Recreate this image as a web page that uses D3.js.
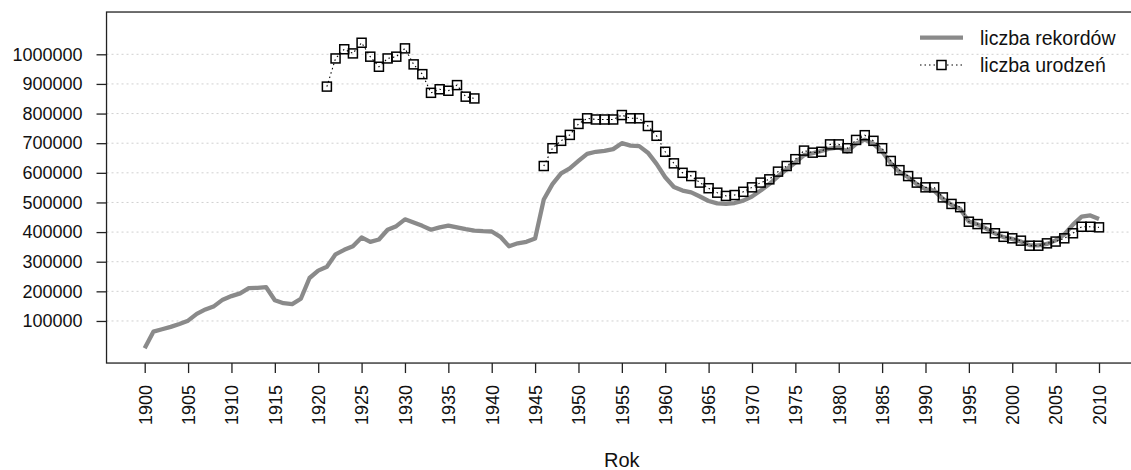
<!DOCTYPE html>
<html>
<head>
<meta charset="utf-8">
<script src="https://cdn.jsdelivr.net/npm/d3@7"></script>
<style>
  body { margin: 0; background: #fff; }
  text { font-family: "Liberation Sans", Arial, sans-serif; fill: #111; }
</style>
</head>
<body>
<div class="container"></div>
<script>
const wd = 1131
const ht = 470

// liczba rekordów, one value per year 1900-2010
const recordYears = d3.range(1900, 2011)
const recordValues = [
  8000, 64000, 72000, 80000, 90000, 101000, 124000, 139000, 150000, 172000,
  184000, 193000, 211000, 212000, 214000, 170000, 160000, 157000, 175000, 245000,
  270000, 283000, 325000, 340000, 352000, 382000, 367000, 375000, 408000, 420000,
  443000, 432000, 421000, 408000, 416000, 422000, 416000, 410000, 405000, 403000,
  402000, 384000, 352000, 362000, 367000, 378000, 510000, 562000, 598000, 615000,
  640000, 664000, 671000, 674000, 680000, 700000, 692000, 690000, 668000, 630000,
  585000, 552000, 540000, 534000, 520000, 505000, 497000, 495000, 498000, 506000,
  520000, 540000, 562000, 588000, 612000, 635000, 660000, 666000, 674000, 682000,
  686000, 672000, 698000, 712000, 698000, 672000, 632000, 603000, 585000, 562000,
  545000, 540000, 512000, 492000, 478000, 436000, 426000, 412000, 396000, 383000,
  377000, 368000, 356000, 355000, 360000, 372000, 392000, 425000, 452000, 456000,
  444000
]

// liczba urodzeń, 1921-1938 and 1946-2010
const birthYearsA = d3.range(1921, 1939)
const birthValuesA = [
  891000, 986000, 1017000, 1003000, 1039000, 992000, 958000, 986000, 992000, 1020000,
  966000, 933000, 870000, 882000, 877000, 896000, 857000, 851000
]
const birthYearsB = d3.range(1946, 2011)
const birthValuesB = [
  623000, 683000, 708000, 728000, 765000, 784000, 780000, 780000, 780000, 795000,
  784000, 784000, 758000, 725000, 671000, 632000, 600000, 589000, 567000, 548000,
  533000, 522000, 525000, 536000, 551000, 567000, 578000, 604000, 623000, 646000,
  675000, 668000, 671000, 696000, 696000, 683000, 711000, 727000, 708000, 683000,
  640000, 609000, 589000, 567000, 551000, 551000, 517000, 495000, 484000, 435000,
  427000, 413000, 396000, 384000, 379000, 371000, 354000, 354000, 362000, 368000,
  379000, 396000, 418000, 418000, 416000
]

const xTicks = [1900, 1905, 1910, 1915, 1920, 1925, 1930, 1935, 1940, 1945, 1950, 1955,
  1960, 1965, 1970, 1975, 1980, 1985, 1990, 1995, 2000, 2005, 2010]
const yTicks = [100000, 200000, 300000, 400000, 500000, 600000, 700000, 800000, 900000, 1000000]
const legendLabels = ["liczba rekordów", "liczba urodzeń"]

const xLim = [1895.6, 2014.4]
const yLim = [-42000, 1142700]

const x = d3.scaleLinear().domain([1900, 2010]).range([144.7, 1099])
const y = d3.scaleLinear().domain([0, 1000000]).range([350.6, 54.3])

const records = recordYears.map((yr, i) => ({ year: yr, value: recordValues[i] }))
const births = birthYearsA.map((yr, i) => ({ year: yr, value: birthValuesA[i] }))
  .concat([{ year: 1942, value: null }])
  .concat(birthYearsB.map((yr, i) => ({ year: yr, value: birthValuesB[i] })))

const svgC = d3.select(".container").append("svg")
  .attr("width", wd)
  .attr("height", ht)

const boxL = x(xLim[0])
const boxR = x(xLim[1])
const boxT = y(yLim[1])
const boxB = y(yLim[0])

// grid
svgC.append("g").selectAll("line")
  .data(yTicks)
  .enter()
  .append("line")
  .attr("x1", boxL)
  .attr("x2", boxR)
  .attr("y1", (d) => y(d))
  .attr("y2", (d) => y(d))
  .style("stroke", "#d0d0d0")
  .style("stroke-width", 1)
  .style("stroke-dasharray", "2,3")

const lineFunc = d3.line()
  .defined((d) => d.value !== null)
  .x((d) => x(d.year))
  .y((d) => y(d.value))

svgC.append("path")
  .datum(records)
  .attr("d", lineFunc)
  .attr("fill", "none")
  .style("stroke", "#8a8a8a")
  .style("stroke-width", 4.3)
  .style("stroke-linejoin", "round")

svgC.append("path")
  .datum(births)
  .attr("d", lineFunc)
  .attr("fill", "none")
  .style("stroke", "#000")
  .style("stroke-width", 1.1)
  .style("stroke-dasharray", "1.5,3")

const sq = 9
svgC.append("g").selectAll("rect")
  .data(births.filter((d) => d.value !== null))
  .enter()
  .append("rect")
  .attr("x", (d) => x(d.year) - sq / 2)
  .attr("y", (d) => y(d.value) - sq / 2)
  .attr("width", sq)
  .attr("height", sq)
  .attr("fill", "none")
  .style("stroke", "#000")
  .style("stroke-width", 1.5)

// box
svgC.append("rect")
  .attr("x", boxL)
  .attr("y", boxT)
  .attr("width", boxR - boxL)
  .attr("height", boxB - boxT)
  .attr("fill", "none")
  .style("stroke", "#222")
  .style("stroke-width", 1.3)

const yAxis = svgC.append("g")
  .attr("transform", "translate(" + boxL + ",0)")
  .call(d3.axisLeft(y).tickValues(yTicks).tickSize(10).tickPadding(14).tickFormat(d3.format("d")))
yAxis.select(".domain").remove()
yAxis.selectAll("line").style("stroke", "#222").style("stroke-width", 1.3)
yAxis.selectAll("text").style("font-size", "18px")

const xAxis = svgC.append("g")
  .attr("transform", "translate(0," + boxB + ")")
  .call(d3.axisBottom(x).tickValues(xTicks).tickSize(10).tickFormat(d3.format("d")))
xAxis.select(".domain").remove()
xAxis.selectAll("line").style("stroke", "#222").style("stroke-width", 1.3)
xAxis.selectAll("text")
  .attr("transform", "rotate(-90)")
  .attr("x", -22)
  .attr("y", 0)
  .attr("dy", "0.35em")
  .style("text-anchor", "end")
  .style("font-size", "18px")

svgC.append("text")
  .attr("x", (boxL + boxR) / 2)
  .attr("y", 467)
  .attr("text-anchor", "middle")
  .style("font-size", "20px")
  .text("Rok")

// legend
const legend = svgC.append("g")
legend.append("line")
  .attr("x1", 920).attr("x2", 963)
  .attr("y1", 37.7).attr("y2", 37.7)
  .style("stroke", "#8a8a8a")
  .style("stroke-width", 4.3)
legend.append("line")
  .attr("x1", 920).attr("x2", 963)
  .attr("y1", 65).attr("y2", 65)
  .style("stroke", "#000")
  .style("stroke-width", 1.1)
  .style("stroke-dasharray", "1.5,3")
legend.append("rect")
  .attr("x", 941.5 - sq / 2).attr("y", 65 - sq / 2)
  .attr("width", sq).attr("height", sq)
  .attr("fill", "#fff")
  .style("stroke", "#000")
  .style("stroke-width", 1.5)
legend.selectAll("text.leg")
  .data(legendLabels)
  .enter()
  .append("text")
  .attr("class", "leg")
  .attr("x", 980)
  .attr("y", (d, i) => 37.7 + i * 27.3)
  .attr("dy", "0.35em")
  .style("font-size", "19.5px")
  .text((d) => d)
</script>
</body>
</html>
